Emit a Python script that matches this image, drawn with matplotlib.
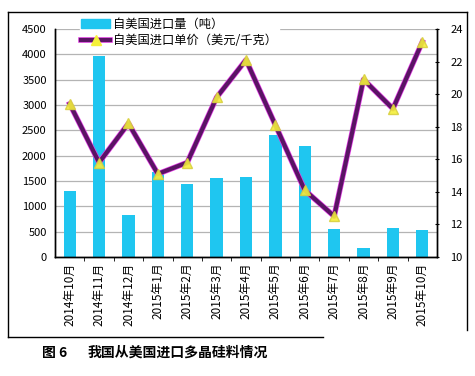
import matplotlib.pyplot as plt
import matplotlib.patheffects as pe
from matplotlib.lines import Line2D
from matplotlib.patches import Patch

plt.rcParams['font.family'] = ['Noto Sans CJK SC', 'DejaVu Sans']

# 月份
months = ['2014年10月', '2014年11月', '2014年12月', '2015年1月', '2015年2月',
          '2015年3月', '2015年4月', '2015年5月', '2015年6月', '2015年7月',
          '2015年8月', '2015年9月', '2015年10月']
# 进口量（吨）
volume = [1300, 3960, 830, 1680, 1440, 1560, 1580, 2400, 2200, 560, 180, 580, 530]
# 进口单价（美元/千克）
price = [19.4, 15.8, 18.2, 15.1, 15.8, 19.8, 22.1, 18.1, 14.1, 12.5, 20.9, 19.1, 23.2]

bar_color = '#1fc6f0'
line_color = '#5a1464'
glow = '#e33ce6'
marker_color = '#f4f03a'

fig = plt.figure(figsize=(4.75, 3.76), dpi=100)
ax1 = fig.add_axes([0.1158, 0.3165, 0.8042, 0.6065])
ax2 = ax1.twinx()

x = list(range(len(months)))
ax1.bar(x, volume, width=0.42, color=bar_color, zorder=2)
ax1.set_xlim(-0.5, len(months) - 0.5)
ax1.set_ylim(0, 4500)
ax1.set_yticks(range(0, 4501, 500))
ax1.yaxis.grid(True, color='#b4b4b4', linewidth=0.9, zorder=0)
ax1.set_axisbelow(True)

ax1.set_xticks(x)
ax1.set_xticklabels(months, rotation=90, fontsize=8.5)
ax1.set_xticks([i + 0.5 for i in x[:-1]], minor=True)
ax1.tick_params(axis='x', which='major', length=0, pad=4)
ax1.tick_params(axis='x', which='minor', length=3, direction='out')
ax1.tick_params(axis='y', labelsize=8, length=0, pad=6)

stroke = [pe.Stroke(linewidth=4.0, foreground=glow), pe.Normal()]
ax2.plot(x, price, color=line_color, linewidth=3, zorder=3, path_effects=stroke)
ax2.plot(x, price, linestyle='none', marker='^', markersize=6.5,
         color=marker_color, markeredgecolor='#d8d040', alpha=0.9, zorder=4)
ax2.set_ylim(10, 24)
ax2.set_yticks(range(10, 25, 2))
ax2.tick_params(axis='y', labelsize=8, length=3, direction='inout', pad=8)

for ax in (ax1, ax2):
    ax.spines['top'].set_visible(False)
    for s in ('left', 'right', 'bottom'):
        ax.spines[s].set_linewidth(1.0)
        ax.spines[s].set_color('black')

handles = [Patch(color=bar_color),
           (Line2D([], [], color=line_color, linewidth=3, path_effects=stroke),
            Line2D([], [], linestyle='none', marker='^', markersize=6.5,
                   markerfacecolor=marker_color, markeredgecolor=marker_color))]
leg = ax2.legend(handles, ['自美国进口量（吨）', '自美国进口单价（美元/千克）'],
                 loc='upper left', bbox_to_anchor=(0.065, 1.055), fontsize=8.8,
                 frameon=True, framealpha=1, edgecolor='white', fancybox=False,
                 handlelength=2.4, handletextpad=0.25, labelspacing=0.3,
                 borderpad=0.1, borderaxespad=0)
leg.set_zorder(5)

# 外框
fig.add_artist(Line2D([8 / 475, 467 / 475], [1 - 12 / 376, 1 - 12 / 376],
                      color='black', linewidth=1))
fig.add_artist(Line2D([8 / 475, 8 / 475], [1 - 12 / 376, 1 - 337 / 376],
                      color='black', linewidth=1))
fig.add_artist(Line2D([467 / 475, 467 / 475], [1 - 12 / 376, 1 - 330 / 376],
                      color='black', linewidth=1))
fig.add_artist(Line2D([8 / 475, 323 / 475], [1 - 337 / 376, 1 - 337 / 376],
                      color='black', linewidth=1))

fig.text(42 / 475, 1 - 353 / 376, '图 6', fontsize=10, fontweight='bold',
         va='center', ha='left')
fig.text(88 / 475, 1 - 353 / 376, '我国从美国进口多晶硅料情况', fontsize=10,
         fontweight='bold', va='center', ha='left')

fig.savefig('out.png', dpi=100)
